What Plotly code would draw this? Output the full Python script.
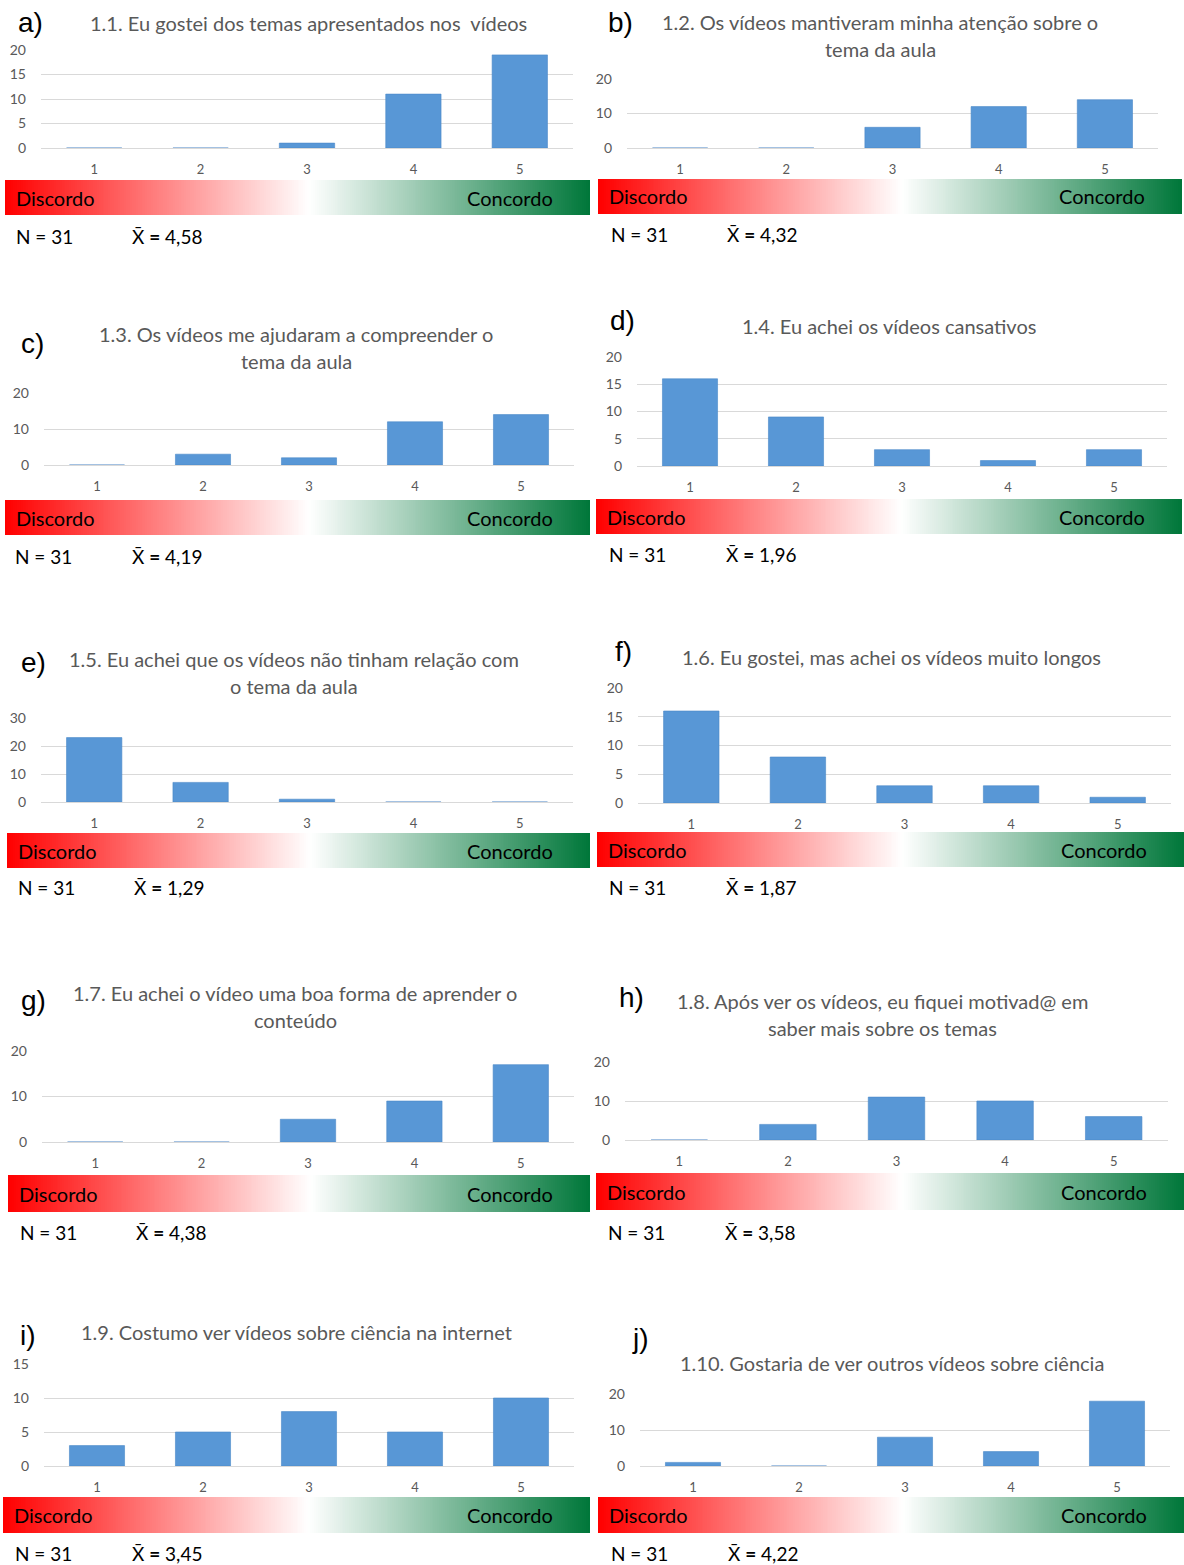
import numpy as np
import plotly.graph_objects as go

W, H = 1184, 1565

# ---------------- data ----------------
letters = ["a)", "b)", "c)", "d)", "e)", "f)", "g)", "h)", "i)", "j)"]
titles = [
    "1.1. Eu gostei dos temas apresentados nos  vídeos",
    "1.2. Os vídeos mantiveram minha atenção sobre o<br>tema da aula",
    "1.3. Os vídeos me ajudaram a compreender o<br>tema da aula",
    "1.4. Eu achei os vídeos cansativos",
    "1.5. Eu achei que os vídeos não tinham relação com<br>o tema da aula",
    "1.6. Eu gostei, mas achei os vídeos muito longos",
    "1.7. Eu achei o vídeo uma boa forma de aprender o<br>conteúdo",
    "1.8. Após ver os vídeos, eu fiquei motivad@ em<br>saber mais sobre os temas",
    "1.9. Costumo ver vídeos sobre ciência na internet",
    "1.10. Gostaria de ver outros vídeos sobre ciência",
]
categories = [1, 2, 3, 4, 5]
tick_labels = ["1", "2", "3", "4", "5"]
counts_a = [0, 0, 1, 11, 19]
counts_b = [0, 0, 6, 12, 14]
counts_c = [0, 3, 2, 12, 14]
counts_d = [16, 9, 3, 1, 3]
counts_e = [23, 7, 1, 0, 0]
counts_f = [16, 8, 3, 3, 1]
counts_g = [0, 0, 5, 9, 17]
counts_h = [0, 4, 11, 10, 6]
counts_i = [3, 5, 8, 5, 10]
counts_j = [1, 0, 8, 4, 18]
counts = [counts_a, counts_b, counts_c, counts_d, counts_e,
          counts_f, counts_g, counts_h, counts_i, counts_j]
n_values = [31] * 10
means = ["4,58", "4,32", "4,19", "1,96", "1,29", "1,87", "4,38", "3,58", "3,45", "4,22"]
label_left = "Discordo"
label_right = "Concordo"

# ---------------- layout (pixel positions) ----------------
# plot area: x0, x1, ytop (at ymax), ybottom (at 0), ymax, dtick
plot_px = [
    (41, 573, 50, 148, 20, 5),
    (627, 1158, 79, 148, 20, 10),
    (44, 574, 393, 465, 20, 10),
    (637, 1167, 357, 466, 20, 5),
    (41, 573, 718, 802, 30, 10),
    (638, 1171, 688, 803, 20, 5),
    (42, 574, 1051, 1142, 20, 10),
    (625, 1168, 1062, 1140, 20, 10),
    (44, 574, 1364, 1466, 15, 5),
    (640, 1170, 1394, 1466, 20, 10),
]
grad_px = [
    (5, 590, 180, 215), (598, 1182, 179, 214),
    (5, 590, 500, 535), (596, 1182, 499, 534),
    (7, 590, 833, 868), (597, 1184, 832, 867),
    (8, 590, 1175, 1212), (596, 1184, 1173, 1210),
    (3, 590, 1497, 1533), (598, 1184, 1497, 1533),
]
letter_px = [(30, 22), (620, 22), (32, 343), (622, 320), (33, 662),
             (623, 652), (33, 1000), (631, 997), (28, 1335), (640, 1338)]
title_px = [(308, 23), (880, 22), (296, 334), (889, 326), (294, 659),
            (891, 657), (295, 993), (883, 1001), (296, 1332), (892, 1363)]
n_px = [(14, 130, 236), (609, 725, 234), (13, 130, 556), (607, 724, 554),
        (16, 132, 888), (607, 724, 888), (18, 134, 1232), (606, 723, 1232),
        (13, 130, 1553), (609, 726, 1553)]


def px(x):
    return x / W


def py(y):
    return 1 - y / H


GRAY = "#595959"
GRID = "#d9d9d9"
TXT_FONT = "Lato"

fig = go.Figure()
layout = {}
annotations = []

grad_z = [list(np.linspace(0, 1, 300))]
grad_scale = [[0.0, "#ff0000"], [0.52, "#ffffff"], [1.0, "#00773a"]]

for i in range(10):
    xa = 2 * i + 1
    xb = 2 * i + 2
    x0, x1, yt, yb, ymax, dt = plot_px[i]
    fig.add_trace(go.Bar(
        x=categories, y=counts[i], width=0.52,
        marker=dict(color="#5897d6", line=dict(color="#4a88c8", width=0.6)),
        xaxis=f"x{xa}", yaxis=f"y{xa}", showlegend=False, hoverinfo="x+y"))
    layout[f"xaxis{xa}"] = dict(
        domain=[px(x0), px(x1)], anchor=f"y{xa}", range=[0.5, 5.5],
        tickvals=categories, ticktext=tick_labels, showgrid=False,
        zeroline=False, showline=True, linecolor=GRID, linewidth=1,
        ticks="", ticklabelstandoff=9, automargin=False,
        tickfont=dict(family=TXT_FONT, size=13, color=GRAY), fixedrange=True)
    layout[f"yaxis{xa}"] = dict(
        domain=[py(yb), py(yt)], anchor=f"x{xa}", range=[0, ymax],
        dtick=dt, tick0=0, showgrid=True, gridcolor=GRID, gridwidth=1,
        zeroline=False, showline=False, ticks="", ticklabelstandoff=14,
        automargin=False,
        tickfont=dict(family=TXT_FONT, size=14, color=GRAY), fixedrange=True)

    gx0, gx1, gy0, gy1 = grad_px[i]
    fig.add_trace(go.Heatmap(
        z=grad_z, colorscale=grad_scale, zmin=0, zmax=1, showscale=False,
        hoverinfo="skip", xaxis=f"x{xb}", yaxis=f"y{xb}"))
    layout[f"xaxis{xb}"] = dict(domain=[px(gx0), px(gx1)], anchor=f"y{xb}",
                                visible=False, range=[-0.5, 299.5],
                                automargin=False, fixedrange=True)
    layout[f"yaxis{xb}"] = dict(domain=[py(gy1), py(gy0)], anchor=f"x{xb}",
                                visible=False, range=[-0.5, 0.5],
                                automargin=False, fixedrange=True)

    gyc = (gy0 + gy1) / 2
    annotations.append(dict(x=px(gx0 + 9), y=py(gyc), xref="paper", yref="paper",
                            text=label_left, showarrow=False, xanchor="left", yanchor="middle",
                            font=dict(family=TXT_FONT, size=20, color="#000000")))
    annotations.append(dict(x=px(gx1 - 35), y=py(gyc), xref="paper", yref="paper",
                            text=label_right, showarrow=False, xanchor="right", yanchor="middle",
                            font=dict(family=TXT_FONT, size=20, color="#000000")))

    lx, ly = letter_px[i]
    annotations.append(dict(x=px(lx), y=py(ly), xref="paper", yref="paper",
                            text=letters[i], showarrow=False, xanchor="center", yanchor="middle",
                            font=dict(family="Liberation Sans", size=28, color="#000000")))

    tx, ty = title_px[i]
    for k, line in enumerate(titles[i].split("<br>")):
        annotations.append(dict(x=px(tx), y=py(ty + 27 * k), xref="paper", yref="paper",
                                text=line, showarrow=False, xanchor="center", yanchor="middle",
                                font=dict(family=TXT_FONT, size=20, color=GRAY)))

    nx, mx, ny = n_px[i]
    annotations.append(dict(x=px(nx), y=py(ny), xref="paper", yref="paper",
                            text=f"N = {n_values[i]}", showarrow=False,
                            xanchor="left", yanchor="middle",
                            font=dict(family=TXT_FONT, size=19, color="#000000")))
    annotations.append(dict(x=px(mx), y=py(ny), xref="paper", yref="paper",
                            text=f"X\u0304 <b>=</b> {means[i]}", showarrow=False,
                            xanchor="left", yanchor="middle",
                            font=dict(family=TXT_FONT, size=19, color="#000000")))

fig.update_layout(
    width=W, height=H, margin=dict(l=0, r=0, t=0, b=0, autoexpand=False),
    paper_bgcolor="#ffffff", plot_bgcolor="#ffffff",
    showlegend=False, annotations=annotations, bargap=0.48, **layout)

fig.write_html("out.html")
